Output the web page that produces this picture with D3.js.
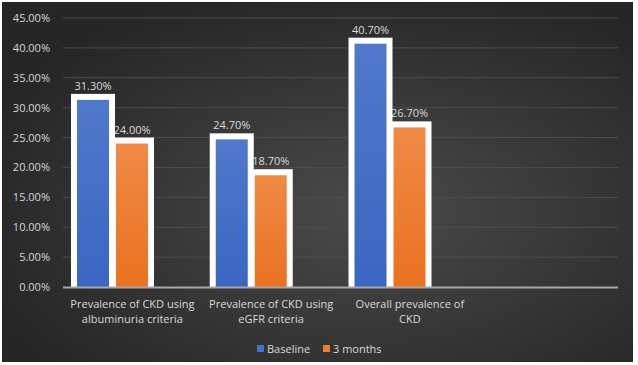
<!DOCTYPE html>
<html><head><meta charset="utf-8">
<script src="https://cdn.jsdelivr.net/npm/d3@7"></script>
<style>
html,body{margin:0;padding:0;background:#ffffff;}
svg{display:block;}
text{font-family:"Open Sans",sans-serif;}
</style></head>
<body>
<script>
const categories = ["Prevalence of CKD using albuminuria criteria", "Prevalence of CKD using eGFR criteria", "Overall prevalence of CKD"];
const categoryLines = [["Prevalence of CKD using", "albuminuria criteria"], ["Prevalence of CKD using", "eGFR criteria"], ["Overall prevalence of", "CKD"]];
const series = ["Baseline", "3 months"];
const baseline = [0.313, 0.247, 0.407];
const threeMonths = [0.240, 0.187, 0.267];
const yTicks = [0, 0.05, 0.10, 0.15, 0.20, 0.25, 0.30, 0.35, 0.40, 0.45];

(function () {
const W = 638, H = 365;
const svg = d3.select("body").append("svg").attr("width", W).attr("height", H);
const defs = svg.append("defs");
const rg = defs.append("radialGradient").attr("id","bg").attr("cx","58%").attr("cy","58%").attr("r","65%");
rg.append("stop").attr("offset","0%").attr("stop-color","#4a4a4a");
rg.append("stop").attr("offset","100%").attr("stop-color","#262626");
const gB = defs.append("linearGradient").attr("id","gB").attr("x1",0).attr("y1",0).attr("x2",0).attr("y2",1);
gB.append("stop").attr("offset","0%").attr("stop-color","#5079cb");
gB.append("stop").attr("offset","100%").attr("stop-color","#3a66c2");
const gO = defs.append("linearGradient").attr("id","gO").attr("x1",0).attr("y1",0).attr("x2",0).attr("y2",1);
gO.append("stop").attr("offset","0%").attr("stop-color","#f08a45");
gO.append("stop").attr("offset","100%").attr("stop-color","#ea7120");
const blur = defs.append("filter").attr("id","soft").attr("x","-20%").attr("y","-20%").attr("width","140%").attr("height","140%");
blur.append("feGaussianBlur").attr("stdDeviation",0.7);

svg.append("rect").attr("x",2).attr("y",2).attr("width",631).attr("height",360).attr("fill","url(#bg)");

const pl = 63, pr = 618, pt = 18, pb = 287;
const y = d3.scaleLinear().domain([0, 0.45]).range([pb, pt]);
const x0 = d3.scaleBand().domain([...categories, "__empty__"]).range([pl, pr]).paddingInner(0).paddingOuter(0);
const x1 = d3.scaleBand().domain([...series, "__none__"]).range([14, 14 + 117]);

svg.append("g").selectAll("line").data(yTicks.filter(d => d > 0)).join("line")
  .attr("x1", pl).attr("x2", pr).attr("y1", d => y(d)).attr("y2", d => y(d))
  .attr("stroke", "#4d4d4d").attr("stroke-width", 1);

const yAxis = d3.axisLeft(y).tickValues(yTicks).tickFormat(d3.format(".2%")).tickSize(0).tickPadding(13);
const ya = svg.append("g").attr("transform", `translate(${pl},0)`).call(yAxis);
ya.select(".domain").remove();
ya.selectAll("text").attr("fill", "#d6d6d6").style("font-size", "11px").style("font-family", "'Open Sans',sans-serif");

const data = categories.map((c, i) => ({cat: c, vals: [{k: series[0], v: baseline[i]}, {k: series[1], v: threeMonths[i]}]}));
const fillW = x1.bandwidth() - 7;

const gl = svg.append("g");
data.forEach(d => d.vals.forEach(s => {
  gl.append("text").attr("x", x0(d.cat) + x1(s.k) + fillW / 2).attr("y", y(s.v) - 10)
    .attr("text-anchor", "middle").attr("fill", "#d9d9d9").style("font-size", "11px")
    .text(d3.format(".2%")(s.v));
}));

const gb = svg.append("g");
data.forEach(d => d.vals.forEach((s, j) => {
  const bx = x0(d.cat) + x1(s.k);
  gb.append("rect").attr("x", bx - 6).attr("y", y(s.v) - 6).attr("width", fillW + 12).attr("height", pb - y(s.v) + 6)
    .attr("fill", "#ffffff").attr("filter", "url(#soft)");
}));
data.forEach(d => d.vals.forEach((s, j) => {
  const bx = x0(d.cat) + x1(s.k);
  gb.append("rect").attr("x", bx).attr("y", y(s.v)).attr("width", fillW).attr("height", pb - y(s.v))
    .attr("fill", j === 0 ? "url(#gB)" : "url(#gO)");
}));

svg.append("line").attr("x1", pl).attr("x2", pr).attr("y1", pb + 0.5).attr("y2", pb + 0.5)
  .attr("stroke", "#a6a6a6").attr("stroke-width", 2);

const gx = svg.append("g");
categories.forEach((c, i) => {
  const cx = x0(c) + x0.bandwidth() / 2;
  const t = gx.append("text").attr("x", cx).attr("y", 308)
    .attr("text-anchor", "middle").attr("fill", "#d9d9d9").style("font-size", "11px");
  categoryLines[i].forEach((ln, k) => t.append("tspan").attr("x", cx).attr("dy", k === 0 ? 0 : 15).text(ln));
});

const legX = [257, 323];
const colors = ["#4472c4", "#ed7d31"];
series.forEach((s, i) => {
  svg.append("rect").attr("x", legX[i]).attr("y", 345).attr("width", 7).attr("height", 7).attr("fill", colors[i]);
  svg.append("text").attr("x", legX[i] + 10).attr("y", 352.5).attr("fill", "#d9d9d9").style("font-size", "11px").text(s);
});
})();
</script>
</body></html>
